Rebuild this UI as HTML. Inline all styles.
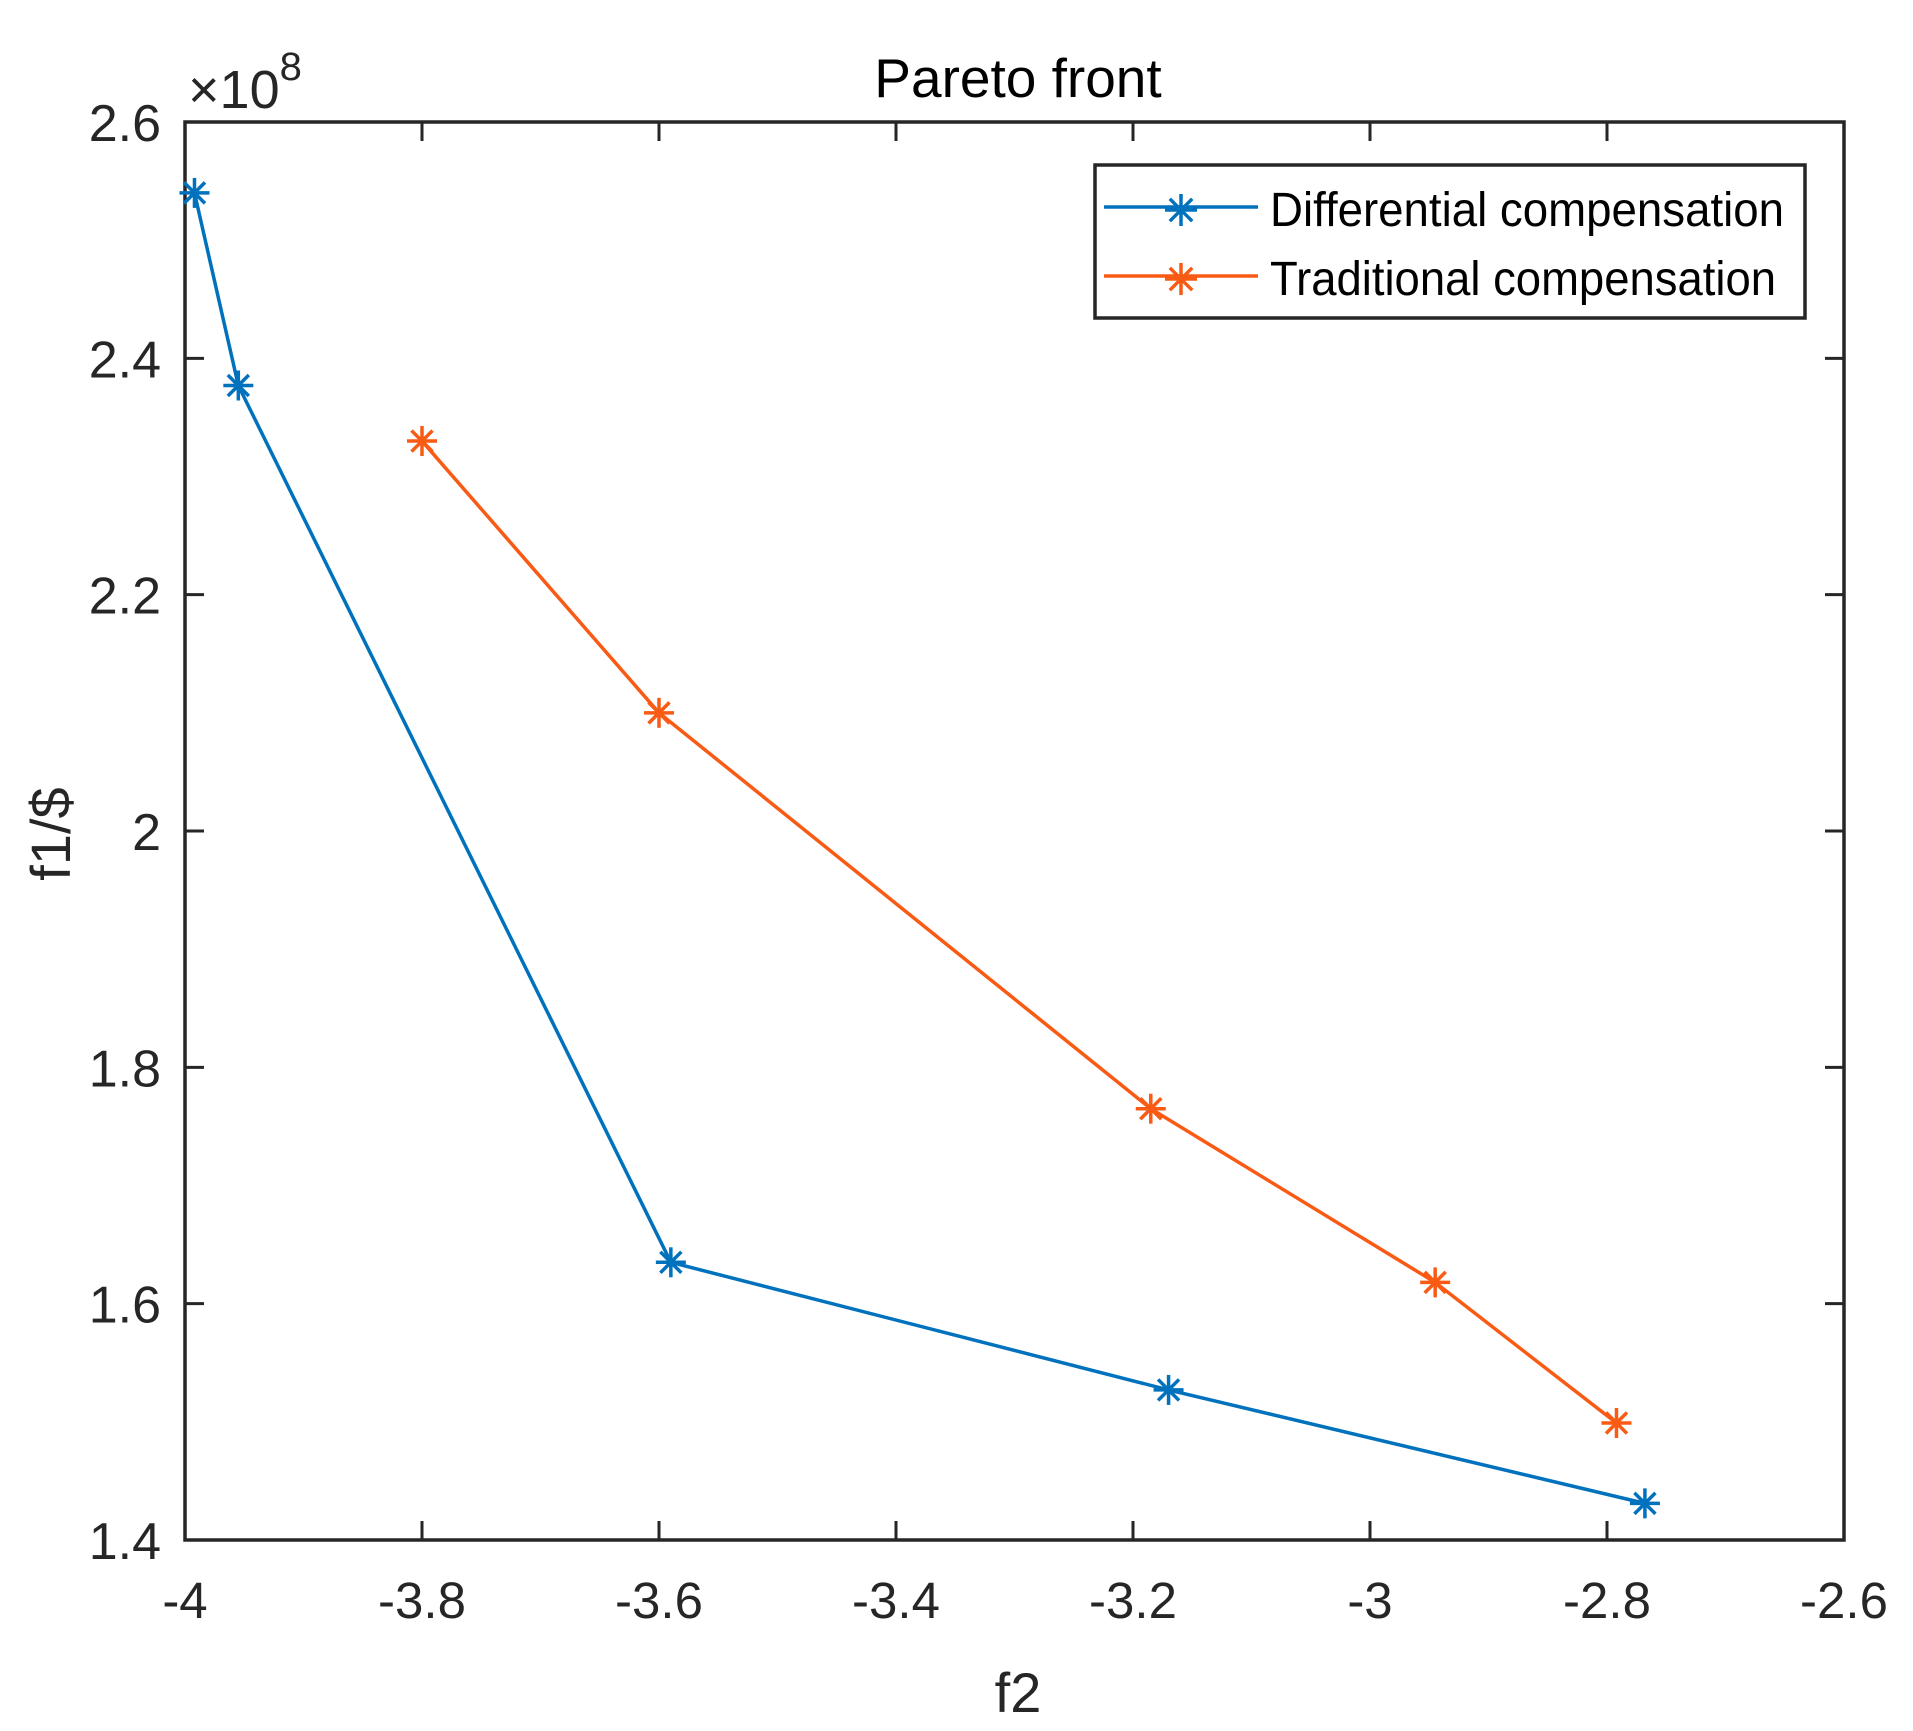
<!DOCTYPE html>
<html><head><meta charset="utf-8"><style>
html,body{margin:0;padding:0;background:#fff;}
svg{display:block;font-family:"Liberation Sans",sans-serif;}
</style></head><body>
<svg id="chart" width="1913" height="1731" viewBox="0 0 1913 1731"></svg>
<script>
const xTicks=[-4,-3.8,-3.6,-3.4,-3.2,-3,-2.8,-2.6];
const xTickLabels=["-4","-3.8","-3.6","-3.4","-3.2","-3","-2.8","-2.6"];
const yTicks=[1.4,1.6,1.8,2.0,2.2,2.4,2.6];
const yTickLabels=["1.4","1.6","1.8","2","2.2","2.4","2.6"];
const diffX=[-3.992,-3.955,-3.59,-3.17,-2.768];
const diffY=[2.540,2.377,1.635,1.527,1.431];
const tradX=[-3.80,-3.60,-3.185,-2.945,-2.792];
const tradY=[2.330,2.100,1.765,1.618,1.499];

const L=185,R=1844,T=122,B=1540,xMin=-4,xMax=-2.6,yMin=1.4,yMax=2.6;
const sx=v=>L+(v-xMin)/(xMax-xMin)*(R-L);
const sy=v=>B-(v-yMin)/(yMax-yMin)*(B-T);
const NS="http://www.w3.org/2000/svg";
const svg=document.getElementById('chart');
function mk(tag,attrs,parent){const e=document.createElementNS(NS,tag);for(const k in attrs)e.setAttribute(k,attrs[k]);(parent||svg).appendChild(e);return e;}
const C="#262626";
xTicks.forEach((t,i)=>{
  const x=sx(t);
  const a=mk('line',{x1:x,y1:B,x2:x,y2:B-19,stroke:C,'stroke-width':3});
  
  
  const b=mk('line',{x1:x,y1:T,x2:x,y2:T+19,stroke:C,'stroke-width':3});
  
  
  const tx=mk('text',{x:x,y:1618,'text-anchor':'middle','font-size':51,fill:C});
  tx.textContent=xTickLabels[i];
  
  
});
yTicks.forEach((t,i)=>{
  const y=sy(t);
  const a=mk('line',{x1:L,y1:y,x2:L+19,y2:y,stroke:C,'stroke-width':3});
  
  
  const b=mk('line',{x1:R,y1:y,x2:R-19,y2:y,stroke:C,'stroke-width':3});
  
  
  const tx=mk('text',{x:161,y:y+19,'text-anchor':'end','font-size':52,fill:C});
  tx.textContent=yTickLabels[i];
  
  
});
const frame=mk('rect',{x:L,y:T,width:R-L,height:B-T,fill:'none',stroke:C,'stroke-width':3.5});



function star(cx,cy,r,color,name){
  const g=mk('g',{stroke:color,'stroke-width':3.5});
  
  
  mk('line',{x1:cx-r,y1:cy,x2:cx+r,y2:cy},g);
  mk('line',{x1:cx,y1:cy-r,x2:cx,y2:cy+r},g);
  const d=r*0.7;
  mk('line',{x1:cx-d,y1:cy-d,x2:cx+d,y2:cy+d},g);
  mk('line',{x1:cx-d,y1:cy+d,x2:cx+d,y2:cy-d},g);
}
function series(xs,ys,color,name){
  const pts=xs.map((x,i)=>sx(x)+','+sy(ys[i])).join(' ');
  const pl=mk('polyline',{points:pts,fill:'none',stroke:color,'stroke-width':3.5});
  
  
  xs.forEach((x,i)=>star(sx(x),sy(ys[i]),15,color,name+'-point'));
}
const BLUE="#0072BD",ORANGE="#F95A14";
series(diffX,diffY,BLUE,'differential');
series(tradX,tradY,ORANGE,'traditional');

const lg=mk('rect',{x:1095,y:165,width:710,height:153,fill:'#fff',stroke:C,'stroke-width':3.5});


[[BLUE,'Differential compensation',207,514],[ORANGE,'Traditional compensation',276,506]].forEach(([c,t,y,w])=>{
  const l=mk('line',{x1:1104,y1:y,x2:1258,y2:y,stroke:c,'stroke-width':3.5});
  
  
  star(1181,y+3,16,c,'legend-marker');
  const tx=mk('text',{x:1270,y:y+19,'font-size':48,fill:'#000',textLength:w,lengthAdjust:'spacingAndGlyphs'});
  tx.textContent=t;
  
  
});
</script>
<div style="position:absolute;left:0;top:0;width:1913px;height:1731px;pointer-events:none;">
<svg width="1913" height="1731" style="position:absolute;left:0;top:0;font-family:'Liberation Sans',sans-serif;">
<text x="1018" y="97" text-anchor="middle" font-size="55" fill="#000">Pareto front</text>
<text x="1018" y="1712" text-anchor="middle" font-size="56" fill="#262626">f2</text>
<text transform="translate(70,834) rotate(-90)" text-anchor="middle" font-size="56" fill="#262626">f1/$</text>
<text x="188" y="108" font-size="54" fill="#262626">×10<tspan dy="-28" font-size="40">8</tspan></text>
</svg></div>
</body></html>
